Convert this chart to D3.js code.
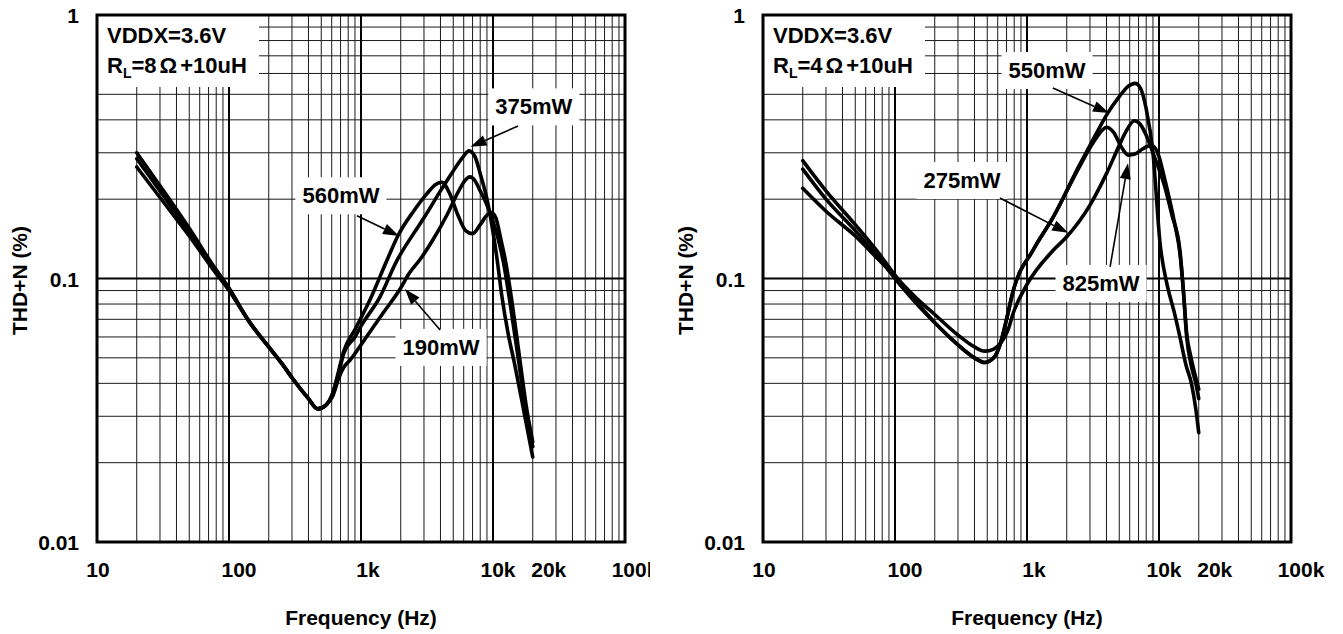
<!DOCTYPE html>
<html>
<head>
<meta charset="utf-8">
<script src="https://cdn.jsdelivr.net/npm/d3@7"></script>
<style>
  body { margin: 0; background: #fff; }
  svg { display: block; }
  text { font-family: "Liberation Sans", Arial, Helvetica, sans-serif; font-weight: bold; fill: #000; }
</style>
</head>
<body>
<svg id="chart" width="1343" height="634"></svg>
<script>
// ---------- Axis ticks ----------
const xTickValues = [10, 100, 1000, 10000, 20000, 100000];
const xTickLabels = ["10", "100", "1k", "10k", "20k", "100k"];
const xTickNudge  = [1, 10, 7, 5, 16, 10];
const yTickValues = [1, 0.1, 0.01];
const yTickLabels = ["1", "0.1", "0.01"];
const xTitle = "Frequency (Hz)";
const yTitle = "THD+N (%)";

// ---------- Left panel: VDDX=3.6V, RL=8Ω+10uH ----------
const left560Freq = [20, 30, 50, 75, 100, 144, 200, 256, 300, 400, 470, 540, 614, 680, 740, 900, 1170, 1570, 1900, 2500, 3160, 3700, 4100, 4700, 5400, 6200, 7000, 8000, 9000, 9700, 10500, 11500, 12500, 14000, 16000, 18000, 20000];
const left560Thd  = [0.30, 0.225, 0.155, 0.113, 0.092, 0.068, 0.055, 0.047, 0.042, 0.035, 0.032, 0.033, 0.037, 0.045, 0.053, 0.064, 0.083, 0.117, 0.145, 0.18, 0.21, 0.228, 0.232, 0.21, 0.175, 0.152, 0.148, 0.16, 0.174, 0.178, 0.17, 0.14, 0.115, 0.08, 0.049, 0.032, 0.024];

const left375Freq = [20, 30, 50, 75, 100, 144, 200, 256, 300, 400, 470, 540, 614, 680, 740, 900, 1000, 1390, 1870, 2500, 3000, 4000, 5000, 5800, 6600, 7300, 8000, 9000, 10000, 10700, 11700, 13000, 14500, 17000, 20000];
const left375Thd  = [0.285, 0.215, 0.15, 0.111, 0.091, 0.068, 0.055, 0.047, 0.042, 0.035, 0.032, 0.033, 0.037, 0.044, 0.052, 0.060, 0.066, 0.085, 0.117, 0.148, 0.17, 0.215, 0.256, 0.285, 0.305, 0.29, 0.25, 0.2, 0.15, 0.12, 0.085, 0.062, 0.048, 0.032, 0.021];

const left190Freq = [20, 30, 50, 75, 100, 144, 200, 256, 300, 400, 470, 540, 614, 680, 740, 826, 1000, 1470, 2000, 2300, 2800, 3500, 4500, 5500, 6200, 6700, 7300, 8000, 9000, 10000, 11000, 12000, 13500, 15500, 17500, 20000];
const left190Thd  = [0.265, 0.203, 0.145, 0.109, 0.09, 0.068, 0.055, 0.047, 0.042, 0.035, 0.032, 0.033, 0.036, 0.042, 0.046, 0.049, 0.056, 0.074, 0.092, 0.104, 0.118, 0.14, 0.175, 0.215, 0.237, 0.243, 0.235, 0.215, 0.19, 0.165, 0.14, 0.115, 0.08, 0.05, 0.033, 0.023];

// ---------- Right panel: VDDX=3.6V, RL=4Ω+10uH ----------
const right825Freq = [20, 30, 50, 75, 100, 150, 200, 300, 400, 478, 560, 624, 700, 787, 1110, 1580, 2500, 3200, 3700, 4000, 4500, 5200, 5850, 6500, 7500, 8300, 9000, 10000, 10800, 12000, 13200, 14400, 15300, 16200, 17500, 19000, 20000];
const right825Thd  = [0.28, 0.215, 0.16, 0.125, 0.103, 0.08, 0.068, 0.056, 0.05, 0.048, 0.05, 0.056, 0.07, 0.09, 0.128, 0.171, 0.266, 0.33, 0.365, 0.375, 0.36, 0.315, 0.294, 0.296, 0.31, 0.318, 0.318, 0.29, 0.25, 0.2, 0.16, 0.125, 0.09, 0.06, 0.047, 0.04, 0.035];

const right550Freq = [20, 30, 50, 75, 100, 150, 200, 300, 400, 478, 560, 624, 700, 787, 1110, 1580, 2500, 3000, 3500, 4100, 5000, 5800, 6600, 7200, 8000, 9000, 10200, 11500, 13000, 14400, 16000, 17600, 19000, 20000];
const right550Thd  = [0.26, 0.2, 0.152, 0.12, 0.1, 0.079, 0.068, 0.056, 0.05, 0.048, 0.05, 0.056, 0.07, 0.09, 0.128, 0.171, 0.27, 0.32, 0.37, 0.425, 0.49, 0.535, 0.55, 0.53, 0.44, 0.3, 0.135, 0.095, 0.075, 0.06, 0.047, 0.04, 0.032, 0.026];

const right275Freq = [20, 30, 50, 75, 100, 150, 200, 300, 400, 478, 560, 650, 720, 787, 1000, 1580, 2000, 3000, 4000, 5000, 5600, 6500, 7200, 8000, 9000, 10000, 11000, 12500, 14400, 15300, 16200, 17500, 19000, 20000];
const right275Thd  = [0.22, 0.18, 0.145, 0.118, 0.102, 0.083, 0.073, 0.061, 0.055, 0.053, 0.054, 0.058, 0.064, 0.074, 0.095, 0.128, 0.144, 0.19, 0.25, 0.32, 0.36, 0.397, 0.385, 0.35, 0.3, 0.26, 0.225, 0.175, 0.128, 0.09, 0.062, 0.05, 0.042, 0.038];

// ---------- Annotations (callouts in data units: [freq, thd]) ----------
const leftLabels  = ["375mW", "560mW", "190mW"];
const leftLabelAt = [[20400, 0.45], [705, 0.207], [4040, 0.055]];
const leftArrowFrom = [[15500, 0.379], [933, 0.173], [3980, 0.0638]];
const leftArrowTo   = [[6750, 0.316], [1940, 0.145], [2150, 0.0912]];

const rightLabels  = ["550mW", "275mW", "825mW"];
const rightLabelAt = [[1420, 0.618], [322, 0.2365], [3640, 0.0962]];
const rightArrowFrom = [[1570, 0.528], [624, 0.202], [4260, 0.1106]];
const rightArrowTo   = [[4180, 0.425], [2050, 0.149], [5820, 0.274]];

// ---------- Drawing ----------
const svg = d3.select("#chart");
const W = 528, H = 527;

function zip(f, v) { return f.map((d, i) => [d, v[i]]); }

function drawPanel(cfg) {
  const root = svg.append("g");
  if (cfg.clipWidth) {
    const id = "clip" + cfg.ox;
    svg.append("defs").append("clipPath").attr("id", id)
      .append("rect").attr("x", 0).attr("y", 0).attr("width", cfg.clipWidth).attr("height", 634);
    root.attr("clip-path", `url(#${id})`);
  }
  const g = root.append("g").attr("transform", `translate(${cfg.ox},${cfg.oy})`);
  const x = d3.scaleLog().domain([10, 100000]).range([0, W]);
  const y = d3.scaleLog().domain([0.01, 1]).range([H, 0]);

  // grid
  const xMinor = [], xMajor = [], yMinor = [], yMajor = [];
  [10, 100, 1000, 10000].forEach(d => { for (let k = 1; k < 10; k++) { const v = d * k; if (v === 10) continue; (k === 1 ? xMajor : xMinor).push(v); } });
  [0.01, 0.1].forEach(d => { for (let k = 1; k < 10; k++) { const v = +(d * k).toFixed(4); if (v === 0.01) continue; (k === 1 ? yMajor : yMinor).push(v); } });

  g.append("g").selectAll("line").data(xMinor).join("line")
    .attr("x1", d => x(d)).attr("x2", d => x(d)).attr("y1", 0).attr("y2", H)
    .attr("stroke", "#1a1a1a").attr("stroke-width", 1);
  g.append("g").selectAll("line").data(yMinor).join("line")
    .attr("y1", d => y(d)).attr("y2", d => y(d)).attr("x1", 0).attr("x2", W)
    .attr("stroke", "#1a1a1a").attr("stroke-width", 1);
  g.append("g").selectAll("line").data(xMajor).join("line")
    .attr("x1", d => x(d)).attr("x2", d => x(d)).attr("y1", 0).attr("y2", H)
    .attr("stroke", "#000").attr("stroke-width", 2);
  g.append("g").selectAll("line").data(yMajor).join("line")
    .attr("y1", d => y(d)).attr("y2", d => y(d)).attr("x1", 0).attr("x2", W)
    .attr("stroke", "#000").attr("stroke-width", 2);

  // legend box
  const lg = g.append("g");
  lg.append("rect").attr("x", 1).attr("y", 1).attr("width", 161).attr("height", 71).attr("fill", "#fff");
  lg.append("text").attr("x", 10).attr("y", 28).attr("font-size", 22).text(cfg.legend1);
  const t2 = lg.append("text").attr("x", 10).attr("y", 58).attr("font-size", 22);
  t2.append("tspan").text("R");
  t2.append("tspan").attr("font-size", 14).attr("dy", 5).text("L");
  t2.append("tspan").attr("dy", -5).text("=" + cfg.ohms);
  t2.append("tspan").attr("dx", 3).text("Ω");
  t2.append("tspan").attr("dx", 3).text("+10uH");

  // curves
  const line = d3.line().x(d => x(d[0])).y(d => y(d[1])).curve(d3.curveMonotoneX);
  g.append("g").selectAll("path").data(cfg.series).join("path")
    .attr("d", d => line(d)).attr("fill", "none").attr("stroke", "#000")
    .attr("stroke-width", 3.6).attr("stroke-linejoin", "round").attr("stroke-linecap", "round");

  // callouts
  cfg.labels.forEach((lab, i) => {
    const [lf, lv] = cfg.labelAt[i];
    const cx = x(lf), cy = y(lv);
    const tg = g.append("g");
    const rect = tg.append("rect").attr("fill", "#fff");
    const t = tg.append("text").attr("x", cx).attr("y", cy + 8).attr("text-anchor", "middle")
      .attr("font-size", 22).text(lab);
    const tw = t.node().getComputedTextLength();
    rect.attr("x", cx - tw / 2 - 7).attr("y", cy - 18).attr("width", tw + 14).attr("height", 37);

    const x1 = x(cfg.from[i][0]), y1 = y(cfg.from[i][1]);
    const x2 = x(cfg.to[i][0]), y2 = y(cfg.to[i][1]);
    const ang = Math.atan2(y2 - y1, x2 - x1);
    const L = 16, hw = 5.5;
    const bx = x2 - L * Math.cos(ang), by = y2 - L * Math.sin(ang);
    g.append("line").attr("x1", x1).attr("y1", y1).attr("x2", bx).attr("y2", by)
      .attr("stroke", "#000").attr("stroke-width", 1.6);
    g.append("path").attr("d", `M${x2},${y2}L${bx + hw * Math.sin(ang)},${by - hw * Math.cos(ang)}L${bx - hw * Math.sin(ang)},${by + hw * Math.cos(ang)}Z`)
      .attr("fill", "#000");
  });

  // frame
  g.append("rect").attr("x", 0).attr("y", 0).attr("width", W).attr("height", H)
    .attr("fill", "none").attr("stroke", "#000").attr("stroke-width", 3);

  // tick labels
  g.append("g").selectAll("text").data(xTickValues).join("text")
    .attr("x", (d, i) => x(d) + xTickNudge[i]).attr("y", H + 35)
    .attr("text-anchor", "middle").attr("font-size", 21)
    .text((d, i) => xTickLabels[i]);
  g.append("g").selectAll("text").data(yTickValues).join("text")
    .attr("x", -18).attr("y", d => y(d) + 8)
    .attr("text-anchor", "end").attr("font-size", 21)
    .text((d, i) => yTickLabels[i]);

  // titles
  g.append("text").attr("x", W / 2).attr("y", H + 83).attr("text-anchor", "middle")
    .attr("font-size", 21).text(xTitle);
  g.append("text").attr("transform", `translate(-70,${H / 2 + 2}) rotate(-90)`)
    .attr("text-anchor", "middle").attr("font-size", 21).text(yTitle);
}

drawPanel({
  ox: 97, oy: 15, clipWidth: 650, legend1: "VDDX=3.6V", ohms: "8",
  series: [zip(left560Freq, left560Thd), zip(left375Freq, left375Thd), zip(left190Freq, left190Thd)],
  labels: leftLabels, labelAt: leftLabelAt, from: leftArrowFrom, to: leftArrowTo
});
drawPanel({
  ox: 763, oy: 15, legend1: "VDDX=3.6V", ohms: "4",
  series: [zip(right825Freq, right825Thd), zip(right550Freq, right550Thd), zip(right275Freq, right275Thd)],
  labels: rightLabels, labelAt: rightLabelAt, from: rightArrowFrom, to: rightArrowTo
});
</script>
</body>
</html>
